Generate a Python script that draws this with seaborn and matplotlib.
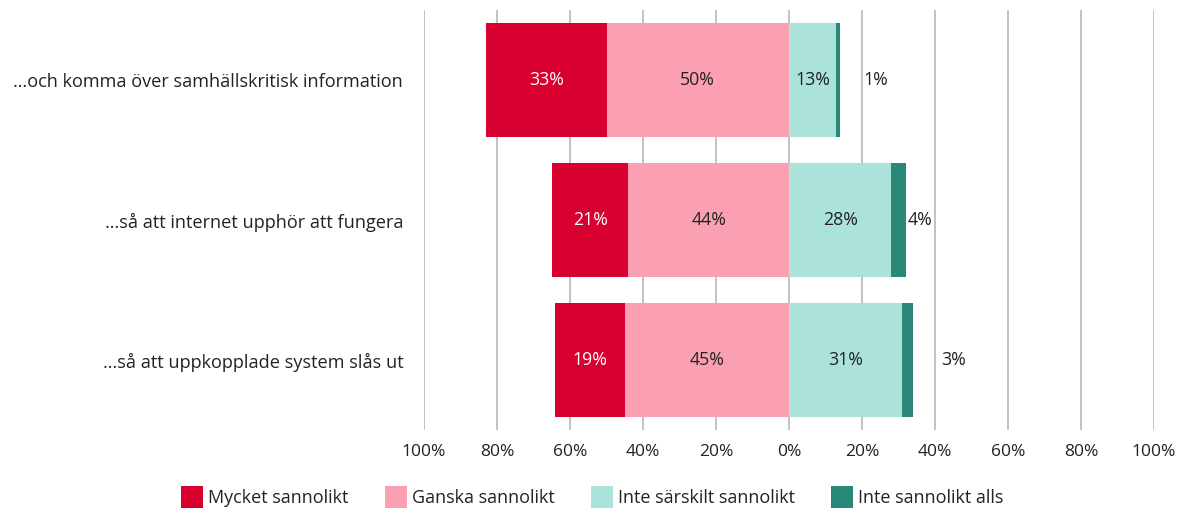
import matplotlib
matplotlib.use("Agg")
import matplotlib.pyplot as plt
import seaborn as sns
import pandas as pd
from matplotlib.patches import Patch

categories = [
    "…och komma över samhällskritisk information",
    "…så att internet upphör att fungera",
    "…så att uppkopplade system slås ut",
]
mycket = [33, 21, 19]
ganska = [50, 44, 45]
inte_sarskilt = [13, 28, 31]
inte_alls = [1, 4, 3]
series_names = ["Mycket sannolikt", "Ganska sannolikt", "Inte särskilt sannolikt", "Inte sannolikt alls"]
tick_values = [-100, -80, -60, -40, -20, 0, 20, 40, 60, 80, 100]
tick_labels = ["100%", "80%", "60%", "40%", "20%", "0%", "20%", "40%", "60%", "80%", "100%"]
outer_offsets = [6.3, 0.5, 7.7]

colors = ["#D7002F", "#FBA0B2", "#ABE3DA", "#2A8878"]
text_dark = "#222222"

sns.set_theme(style="white")
plt.rcParams["font.family"] = ["Open Sans", "DejaVu Sans"]

df = pd.DataFrame({
    "cat": categories,
    "neg_outer": [-(a + b) for a, b in zip(mycket, ganska)],
    "neg_inner": [-b for b in ganska],
    "pos_outer": [c + d for c, d in zip(inte_sarskilt, inte_alls)],
    "pos_inner": inte_sarskilt,
})

fig = plt.figure(figsize=(11.85, 5.13), dpi=100)
ax = fig.add_axes([424 / 1185, 1 - 430 / 513, 730 / 1185, 420 / 513])

ax.set_axisbelow(True)
for xv in tick_values:
    ax.axvline(xv, color="#b8b8bb", lw=1.2, zorder=0)

bw = 0.81
for col, c in [("neg_outer", colors[0]), ("neg_inner", colors[1]),
               ("pos_outer", colors[3]), ("pos_inner", colors[2])]:
    sns.barplot(data=df, x=col, y="cat", orient="h", color=c, saturation=1,
                width=bw, linewidth=0, ax=ax, zorder=2)

fs = 12.8
for i in range(len(categories)):
    m, g, s, a = mycket[i], ganska[i], inte_sarskilt[i], inte_alls[i]
    ax.text(-g - m / 2, i, f"{m}%", ha="center", va="center", color="white", fontsize=fs, zorder=3)
    ax.text(-g / 2, i, f"{g}%", ha="center", va="center", color=text_dark, fontsize=fs, zorder=3)
    ax.text(s / 2, i, f"{s}%", ha="center", va="center", color=text_dark, fontsize=fs, zorder=3)
    ax.text(s + a + outer_offsets[i], i, f"{a}%", ha="left", va="center", color=text_dark, fontsize=fs, zorder=3)

ax.set_xlim(-100, 100)
ax.set_ylim(2.5, -0.5)
ax.set_xticks(tick_values)
ax.set_xticklabels(tick_labels, fontsize=12.5, color=text_dark)
ax.set_yticks(range(len(categories)))
ax.set_yticklabels(categories, fontsize=13.1, color=text_dark)
ax.tick_params(axis="x", length=0, pad=10)
ax.tick_params(axis="y", length=0, pad=15)
ax.set_xlabel("")
ax.set_ylabel("")
for sp in ax.spines.values():
    sp.set_visible(False)

handles = [Patch(facecolor=c, edgecolor="none", label=n) for c, n in zip(colors, series_names)]
fig.legend(handles=handles, loc="center", bbox_to_anchor=(0.5, 1 - 497 / 513), ncol=4,
           frameon=False, fontsize=13, handlelength=1.2, handleheight=1.5,
           handletextpad=0.3, columnspacing=2.0, labelcolor=text_dark)

fig.savefig("out.png", dpi=100)
